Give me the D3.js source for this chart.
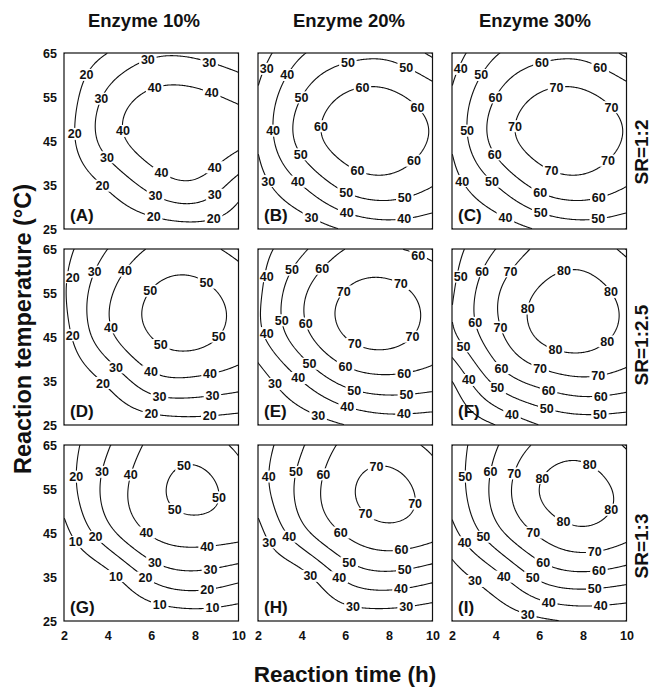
<!DOCTYPE html>
<html><head><meta charset="utf-8">
<script src="https://cdn.jsdelivr.net/npm/d3@7"></script>
<style>body{margin:0;background:#fff}</style>
</head><body><svg id="chart" width="651" height="687"></svg>
<script>
// ---------------- data ----------------
const timeTicks = [2, 4, 6, 8, 10];
const tempTicks = [25, 35, 45, 55, 65];
const gridTimes = [2, 4, 6, 8, 10];          // columns of each grid
const gridTemps = [65, 55, 45, 35, 25];      // rows of each grid (top to bottom)
const levels = [10, 20, 30, 40, 50, 60, 70, 80, 90];
const enzymeLabels = ["Enzyme 10%", "Enzyme 20%", "Enzyme 30%"];
const ratioLabels = ["SR=1:2", "SR=1:2.5", "SR=1:3"];
const panelNames = ["(A)", "(B)", "(C)", "(D)", "(E)", "(F)", "(G)", "(H)", "(I)"];

// yield read at the grid nodes (rows: 65,55,45,35,25 °C; cols: 2,4,6,8,10 h)
const yieldA = [[12, 20, 28, 28, 23], [13, 32, 42, 42.5, 38], [14.5, 34, 45, 47, 42.5], [12, 21.5, 33.5, 38, 25.5], [11, 12, 14, 16, 14]];
const yieldB = [[25, 39, 46, 47, 38], [31, 50, 61, 62, 55], [31, 53, 64, 65.5, 59], [26, 40, 53, 56.5, 50.5], [21, 24, 31, 35, 33]];
const yieldC = [[35, 49, 56, 57, 48], [41, 60, 71, 72, 65], [41, 63, 74, 75.5, 69], [36, 50, 63, 66.5, 60.5], [31, 34, 41, 45, 43]];
const yieldD = [[17, 30, 41, 43, 37], [19, 38, 50.5, 53, 46], [16, 37, 50, 53, 46], [12, 22, 36, 38, 34.5], [11, 12, 14, 15.5, 14]];
const yieldE = [[36, 48, 60, 61, 57], [38, 58, 70.5, 73, 66], [37, 56, 70, 73, 66], [25, 40, 53, 57, 54.5], [22, 24, 30, 34, 33]];
const yieldF = [[46, 60, 72, 75, 68], [49, 68.5, 81, 84, 77], [47.5, 66.5, 81, 84, 77], [30, 52.5, 63.5, 68, 65], [22, 30, 40, 44, 43]];
const yieldG = [[15, 29, 42, 45, 38], [14, 33, 46.5, 53, 45], [7, 26.5, 41, 45, 43], [0, 7, 22, 27, 23], [0, 0, 1, 3, 2]];
const yieldH = [[35, 49, 62, 64, 58], [35, 53, 67.5, 73.5, 65], [27, 46.5, 61, 67, 63], [23, 27, 42, 47, 43], [21, 22, 23, 23, 21]];
const yieldI = [[45, 59, 72, 76, 69], [44, 63, 80, 84, 77], [37, 56.5, 71.5, 78, 73], [26, 37, 52, 57, 54], [23, 24, 28, 31, 30]];

const panelData = [yieldA, yieldB, yieldC, yieldD, yieldE, yieldF, yieldG, yieldH, yieldI];

// ---------------- layout ----------------
const W = 651, H = 687;
const colX = [64, 258, 452], rowY = [53, 249, 445];
const pw = 174.5, ph = 176;
const FONT = "'Liberation Sans', Arial, Helvetica, sans-serif";

const svg = d3.select("#chart");
svg.append("rect").attr("width", W).attr("height", H).attr("fill", "#fff");
const defs = svg.append("defs");

// natural cubic spline through (xs, ys), xs ascending
function naturalSpline(xs, ys) {
  const n = xs.length;
  const h = d3.range(n - 1).map(i => xs[i + 1] - xs[i]);
  const M = new Array(n).fill(0);
  const m = n - 2;
  if (m > 0) {
    const a = [], b = [], c = [], r = [];
    for (let i = 1; i <= n - 2; i++) {
      a.push(h[i - 1]); b.push(2 * (h[i - 1] + h[i])); c.push(h[i]);
      r.push(6 * ((ys[i + 1] - ys[i]) / h[i] - (ys[i] - ys[i - 1]) / h[i - 1]));
    }
    for (let i = 1; i < m; i++) { const w = a[i] / b[i - 1]; b[i] -= w * c[i - 1]; r[i] -= w * r[i - 1]; }
    const s = new Array(m);
    s[m - 1] = r[m - 1] / b[m - 1];
    for (let i = m - 2; i >= 0; i--) s[i] = (r[i] - c[i] * s[i + 1]) / b[i];
    for (let i = 0; i < m; i++) M[i + 1] = s[i];
  }
  return x => {
    let k = 0;
    while (k < n - 2 && x > xs[k + 1]) k++;
    const x0 = xs[k], x1 = xs[k + 1], hk = x1 - x0;
    const A = (x1 - x) / hk, B = (x - x0) / hk;
    return A * ys[k] + B * ys[k + 1] + ((A * A * A - A) * M[k] + (B * B * B - B) * M[k + 1]) * hk * hk / 6;
  };
}

const tempsAsc = gridTemps.slice().reverse();
const nx = 176, ny = 176;
const tMin = d3.min(gridTimes), tMax = d3.max(gridTimes);
const TMin = d3.min(gridTemps), TMax = d3.max(gridTemps);

panelData.forEach((vals, idx) => {
  const col = idx % 3, row = Math.floor(idx / 3);
  const x0 = colX[col], y0 = rowY[row];
  const xs = d3.scaleLinear().domain([tMin, tMax]).range([x0, x0 + pw]);
  const ys = d3.scaleLinear().domain([TMin, TMax]).range([y0 + ph, y0]);

  // fine surface through the read grid values
  const rowFns = vals.map(r => naturalSpline(gridTimes, r));
  const grid = new Float64Array(nx * ny);
  for (let i = 0; i < nx; i++) {
    const t = tMin + (i + 0.5) * (tMax - tMin) / nx;
    const colVals = rowFns.map(f => f(t)).reverse();
    const cf = naturalSpline(tempsAsc, colVals);
    for (let j = 0; j < ny; j++) {
      const T = TMax - (j + 0.5) * (TMax - TMin) / ny;
      grid[j * nx + i] = cf(T);
    }
  }
  const contours = d3.contours().size([nx, ny]).thresholds(levels)(grid);

  const toPx = p => [xs(tMin + p[0] * (tMax - tMin) / nx), ys(TMax - p[1] * (TMax - TMin) / ny)];
  const eps = 1e-6;
  const sameEdge = (a, b) =>
    (a[0] <= eps && b[0] <= eps) || (a[0] >= nx - eps && b[0] >= nx - eps) ||
    (a[1] <= eps && b[1] <= eps) || (a[1] >= ny - eps && b[1] >= ny - eps);
  const onB = a => a[0] <= eps || a[0] >= nx - eps || a[1] <= eps || a[1] >= ny - eps;

  const pieces = []; // {level, pts}
  contours.forEach(c => {
    c.coordinates.forEach(poly => poly.forEach(ring => {
      const parts = []; let cur = [];
      for (let k = 0; k < ring.length - 1; k++) {
        const a = ring[k], b = ring[k + 1];
        if (sameEdge(a, b)) { if (cur.length > 1) parts.push(cur); cur = []; continue; }
        if (cur.length === 0) cur.push(a);
        cur.push(b);
      }
      if (cur.length > 1) parts.push(cur);
      if (parts.length > 1 && !onB(ring[0])) {
        const last = parts.pop();
        parts[0] = last.concat(parts[0].slice(1));
      }
      parts.forEach(pp => pieces.push({ level: c.value, pts: pp.map(toPx) }));
    }));
  });

  // label placement along each piece (avoid the panel letter)
  const lw = 15.5, lh = 11;
  const letterBox = { x1: x0 + 3, x2: x0 + 33, y1: y0 + ph - 24, y2: y0 + ph - 3 };
  const labels = [];
  pieces.forEach(pc => {
    const pts = pc.pts;
    const cum = [0];
    for (let k = 1; k < pts.length; k++) cum.push(cum[k - 1] + Math.hypot(pts[k][0] - pts[k - 1][0], pts[k][1] - pts[k - 1][1]));
    const L = cum[cum.length - 1];
    if (L < 22) return;
    const nLab = Math.max(1, Math.round(L / 58));
    for (let q = 0; q < nLab; q++) {
      const s = (q + 0.5) * L / nLab;
      let k = d3.bisectLeft(cum, s); if (k < 1) k = 1; if (k > pts.length - 1) k = pts.length - 1;
      const f = (s - cum[k - 1]) / ((cum[k] - cum[k - 1]) || 1);
      let cx = pts[k - 1][0] + f * (pts[k][0] - pts[k - 1][0]);
      let cy = pts[k - 1][1] + f * (pts[k][1] - pts[k - 1][1]);
      cx = Math.max(x0 + lw / 2 + 1, Math.min(x0 + pw - lw / 2 - 1, cx));
      cy = Math.max(y0 + lh / 2 + 1, Math.min(y0 + ph - lh / 2 - 1, cy));
      const clash = labels.some(l => Math.abs(l.x - cx) < lw + 1 && Math.abs(l.y - cy) < lh + 1);
      const hitsLetter = cx + lw / 2 > letterBox.x1 && cx - lw / 2 < letterBox.x2 &&
                         cy + lh / 2 > letterBox.y1 && cy - lh / 2 < letterBox.y2;
      if (!clash && !hitsLetter) labels.push({ x: cx, y: cy, text: String(pc.level) });
    }
  });

  const clipId = "clip" + idx, maskId = "mask" + idx;
  defs.append("clipPath").attr("id", clipId).append("rect")
    .attr("x", x0).attr("y", y0).attr("width", pw).attr("height", ph);
  const mask = defs.append("mask").attr("id", maskId).attr("maskUnits", "userSpaceOnUse")
    .attr("x", 0).attr("y", 0).attr("width", W).attr("height", H);
  mask.append("rect").attr("x", 0).attr("y", 0).attr("width", W).attr("height", H).attr("fill", "#fff");
  mask.selectAll("rect.hole").data(labels).join("rect").attr("class", "hole")
    .attr("x", d => d.x - lw / 2 - 1).attr("y", d => d.y - lh / 2 - 0.5)
    .attr("width", lw + 2).attr("height", lh + 1).attr("fill", "#000");

  const g = svg.append("g");
  const line = d3.line();
  g.append("g").attr("clip-path", `url(#${clipId})`).append("g").attr("mask", `url(#${maskId})`)
    .selectAll("path").data(pieces).join("path")
    .attr("d", d => line(d.pts)).attr("fill", "none").attr("stroke", "#111").attr("stroke-width", 1.1);

  g.selectAll("text.cl").data(labels).join("text").attr("class", "cl")
    .attr("x", d => d.x).attr("y", d => d.y).attr("dy", "0.36em")
    .attr("text-anchor", "middle").attr("font-family", FONT).attr("font-weight", "bold").attr("font-size", 12.5)
    .attr("fill", "#111").text(d => d.text);

  // frame
  g.append("rect").attr("x", x0).attr("y", y0).attr("width", pw).attr("height", ph)
    .attr("fill", "none").attr("stroke", "#111").attr("stroke-width", 1.2);

  // panel letter
  g.append("text").attr("x", x0 + 6).attr("y", y0 + ph - 8)
    .attr("font-family", FONT).attr("font-weight", "bold").attr("font-size", 17).attr("fill", "#111")
    .text(panelNames[idx]);

  // axes tick labels
  if (col === 0) {
    const ax = d3.axisLeft(ys).tickValues(tempTicks).tickSize(0).tickPadding(7);
    const ag = g.append("g").attr("transform", `translate(${x0},0)`).call(ax);
    ag.select(".domain").remove();
    ag.selectAll("text").attr("font-family", FONT).attr("font-weight", "bold").attr("font-size", 12.5).attr("fill", "#111");
  }
  if (row === 2) {
    const ax = d3.axisBottom(xs).tickValues(timeTicks).tickSize(0).tickPadding(10);
    const ag = g.append("g").attr("transform", `translate(0,${y0 + ph})`).call(ax);
    ag.select(".domain").remove();
    ag.selectAll("text").attr("font-family", FONT).attr("font-weight", "bold").attr("font-size", 12.5).attr("fill", "#111");
  }
});

// column titles
const titleX = [144, 349, 535];
svg.selectAll("text.ct").data(enzymeLabels).join("text").attr("class", "ct")
  .attr("x", (d, i) => titleX[i]).attr("y", 27).attr("text-anchor", "middle")
  .attr("font-family", FONT).attr("font-weight", "bold").attr("font-size", 18.5).attr("fill", "#111").text(d => d);

// row labels
const ratioY = [152, 345, 546];
svg.selectAll("text.rl").data(ratioLabels).join("text").attr("class", "rl")
  .attr("transform", (d, i) => `translate(648,${ratioY[i]}) rotate(-90)`).attr("text-anchor", "middle")
  .attr("font-family", FONT).attr("font-weight", "bold").attr("font-size", 19).attr("fill", "#111").text(d => d);

// axis titles
svg.append("text").attr("x", 345).attr("y", 682).attr("text-anchor", "middle")
  .attr("font-family", FONT).attr("font-weight", "bold").attr("font-size", 22.5).attr("fill", "#111")
  .text("Reaction time (h)");
svg.append("text").attr("transform", "translate(31,329) rotate(-90)").attr("text-anchor", "middle")
  .attr("font-family", FONT).attr("font-weight", "bold").attr("font-size", 23.5).attr("fill", "#111")
  .text("Reaction temperature (°C)");
</script>
</body></html>
